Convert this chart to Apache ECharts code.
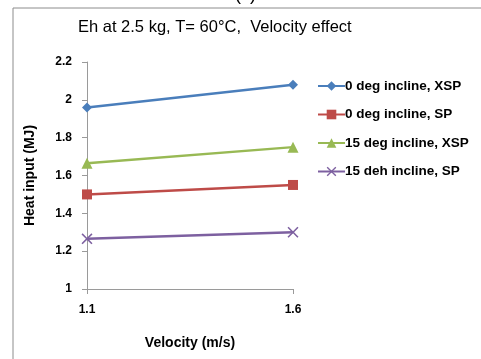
<!DOCTYPE html>
<html>
<head>
<meta charset="utf-8">
<script src="https://cdn.jsdelivr.net/npm/echarts@6/dist/echarts.min.js"></script>
<style>
  html, body { margin: 0; padding: 0; background: #fff; }
  #chart { width: 481px; height: 359px; }
</style>
</head>
<body>
<div id="chart"></div>
<script>
// Velocity categories (m/s)
const velocities = ['1.1', '1.6'];

// Heat input (MJ) per configuration
const seriesNames = ['0 deg incline, XSP', '0 deg incline, SP', '15 deg incline, XSP', '15 deh incline, SP'];
const xsp0 = [1.96, 2.08];
const sp0 = [1.50, 1.55];
const xsp15 = [1.665, 1.75];
const sp15 = [1.265, 1.30];

const colors = ['#4a7ebb', '#be4b48', '#98b954', '#7d60a0'];
const crossPath = 'path://M0,1L1,0L5,4L9,0L10,1L6,5L10,9L9,10L5,6L1,10L0,9L4,5Z';
const symbols = ['diamond', 'rect', 'triangle', crossPath];
const symbolSizes = [10, 10, 11, 11];
const values = [xsp0, sp0, xsp15, sp15];

const font = 'Liberation Sans, Arial, sans-serif';

const chart = echarts.init(document.getElementById('chart'), null, { renderer: 'canvas' });

chart.setOption({
  animation: false,
  backgroundColor: '#fff',
  color: colors,
  title: {
    text: 'Eh at 2.5 kg, T= 60°C,  Velocity effect',
    left: 73,
    top: 14,
    textStyle: { fontFamily: font, fontSize: 16.5, fontWeight: 'normal', color: '#000' }
  },
  graphic: [
    { type: 'line', shape: { x1: 13, y1: 8, x2: 481, y2: 8 }, style: { stroke: '#8c8c8c', lineWidth: 1 } },
    { type: 'line', shape: { x1: 13, y1: 8, x2: 13, y2: 359 }, style: { stroke: '#8c8c8c', lineWidth: 1 } },
    { type: 'text', left: 235, top: -14, style: { text: '(c)', font: '18px ' + font, fill: '#000' } }
  ],
  legend: {
    orient: 'vertical',
    left: 312,
    top: 74,
    itemWidth: 27,
    itemHeight: 12,
    itemGap: 14.5,
    data: seriesNames,
    textStyle: { fontFamily: font, fontSize: 13.5, fontWeight: 'bold', color: '#000', padding: [0, 0, 0, -5] }
  },
  grid: { left: 87, top: 62, right: 188, bottom: 70, containLabel: false },
  xAxis: {
    type: 'category',
    data: velocities,
    boundaryGap: false,
    name: 'Velocity (m/s)',
    nameLocation: 'middle',
    nameGap: 47,
    nameTextStyle: { fontFamily: font, fontSize: 14, fontWeight: 'bold', color: '#000' },
    axisLine: { lineStyle: { color: '#9a9a9a', width: 1 } },
    axisTick: { show: true, length: 5, lineStyle: { color: '#9a9a9a' } },
    axisLabel: { margin: 15, fontFamily: font, fontSize: 12, fontWeight: 'bold', color: '#000' },
    splitLine: { show: false }
  },
  yAxis: {
    type: 'value',
    min: 1,
    max: 2.2,
    interval: 0.2,
    name: 'Heat input (MJ)',
    nameLocation: 'middle',
    nameGap: 50,
    nameRotate: 90,
    nameTextStyle: { fontFamily: font, fontSize: 14, fontWeight: 'bold', color: '#000' },
    axisLine: { show: true, lineStyle: { color: '#9a9a9a', width: 1 } },
    axisTick: { show: true, length: 5, lineStyle: { color: '#9a9a9a' } },
    axisLabel: { margin: 15, fontFamily: font, fontSize: 12, fontWeight: 'bold', color: '#000' },
    splitLine: { show: false }
  },
  series: seriesNames.map((name, i) => ({
    name: name,
    type: 'line',
    data: values[i],
    symbol: symbols[i],
    symbolSize: symbolSizes[i],
    showAllSymbol: true,
    lineStyle: { width: 2.5, color: colors[i] },
    itemStyle: { color: colors[i] }
  }))
});
</script>
</body>
</html>
